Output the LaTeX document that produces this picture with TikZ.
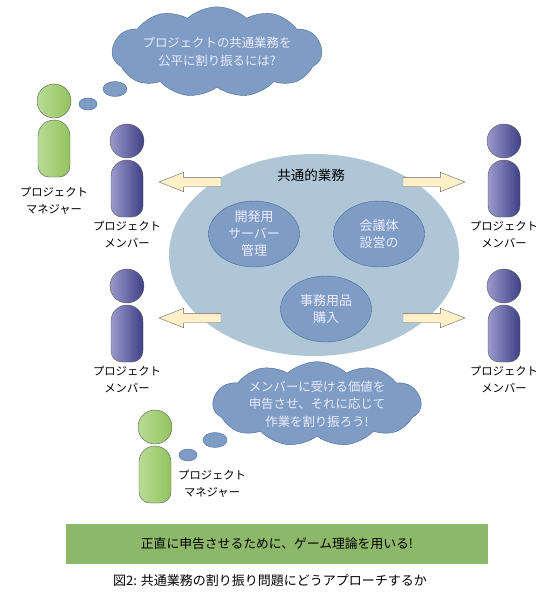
\documentclass[tikz,border=0pt]{standalone}
\usepackage{fontspec}
\setmainfont{Noto Sans CJK JP}
\usepackage{xcolor}
\usetikzlibrary{positioning, shapes.geometric, shapes.symbols, shapes.arrows}
\definecolor{bubbleblue}{HTML}{7F9CC4}
\definecolor{bubbleline}{HTML}{4A6A9C}
\definecolor{poolblue}{HTML}{AEC6D6}
\definecolor{arrowcream}{HTML}{FFF0C8}
\definecolor{bargreen}{HTML}{8DB86A}
\definecolor{mgrlight}{HTML}{B8DC94}
\definecolor{mgrdark}{HTML}{93C25F}
\definecolor{mbrlight}{HTML}{9A9ACC}
\definecolor{mbrdark}{HTML}{3F3F86}

\begin{document}
\begin{tikzpicture}[
    x=1pt, y=-1pt,
    lbl/.style={align=center, font=\fontsize{11.3}{16.5}\selectfont, inner sep=0pt},
    whitelbl/.style={lbl, text=white!92!blue, font=\fontsize{12.4}{17.5}\selectfont},
    task/.style={ellipse, draw=bubbleline, fill=bubbleblue, minimum width=91pt,
                 minimum height=66pt, inner sep=0pt, whitelbl,
                 font=\fontsize{13}{17}\selectfont},
    thought/.style={cloud, cloud puffs=11, cloud puff arc=85, aspect=3, draw=bubbleline,
                    fill=bubbleblue, minimum width=208pt, minimum height=78pt,
                    inner sep=0pt, whitelbl},
    dot/.style={ellipse, draw=bubbleline, fill=bubbleblue, inner sep=0pt},
    flow/.style={single arrow, draw=black!60, fill=arrowcream, minimum width=19pt,
                 minimum height=62pt, inner sep=4.5pt, outer sep=0pt,
                 single arrow tip angle=43, single arrow head extend=5pt},
    mgr/.style={draw=black!65, left color=mgrlight, right color=mgrdark},
    mbr/.style={draw=black!65, left color=mbrlight, right color=mbrdark},
    pics/person/.style={code={
      \node[circle, #1, minimum size=34pt, inner sep=0pt] (-head) at (0,-35) {};
      \path[#1] (-16,0) arc[start angle=180, end angle=360, radius=16]
        -- (16,30) arc[start angle=0, end angle=90, radius=11]
        -- (-5,41) arc[start angle=90, end angle=180, radius=11] -- cycle;
      \coordinate (-foot) at (0,41);
    }}
  ]
  \useasboundingbox (0,0) rectangle (554,592);

  % common pool
  \node[ellipse, fill=poolblue, minimum width=290pt, minimum height=202pt, inner sep=0pt]
    (pool) at (314,255) {};
  \node[lbl, font=\fontsize{13.5}{17}\selectfont] (title) at (311,175) {共通的業務};
  \node[task] (server) at (254,234) {開発用\\サーバー\\管理};
  \node[task] (council) at (379,234) {会議体\\設営の};
  \node[task] (office) at (326,309) {事務用品\\購入};

  % people
  \pic (mgrA) at (54,136) {person=mgr};
  \pic (mbrA) at (127,176) {person=mbr};
  \pic (mbrB) at (504,176) {person=mbr};
  \pic (mbrC) at (127,321) {person=mbr};
  \pic (mbrD) at (504,321) {person=mbr};
  \pic (mgrB) at (155,462) {person=mgr};
  \node[lbl, below=10pt of mgrA-foot] (mgrAtxt) {プロジェクト\\マネジャー};
  \node[lbl, below=4pt of mbrA-foot] (mbrAtxt) {プロジェクト\\メンバー};
  \node[lbl, below=4pt of mbrB-foot] (mbrBtxt) {プロジェクト\\メンバー};
  \node[lbl, below=4pt of mbrC-foot] (mbrCtxt) {プロジェクト\\メンバー};
  \node[lbl, below=4pt of mbrD-foot] (mbrDtxt) {プロジェクト\\メンバー};
  \node[lbl, right=23pt of mgrB-foot, yshift=19pt] (mgrBtxt) {プロジェクト\\マネジャー};

  % arrows
  \node[flow, shape border rotate=180] (outA) at (196,182) {};
  \node[flow] (outB) at (428,182) {};
  \node[flow, shape border rotate=180] (outC) at (196,318) {};
  \node[flow] (outD) at (428,318) {};

  % thoughts
  \node[thought] (thinkA) at (217,52) {プロジェクトの共通業務を\\公平に割り振るには?};
  \node[dot, minimum width=24pt, minimum height=15pt] (dotA) at (115,89) {};
  \node[dot, minimum width=18pt, minimum height=12pt] (dotB) at (88,104) {};
  \node[thought] (thinkB) at (317,404) {メンバーに受ける価値を\\申告させ、それに応じて\\作業を割り振ろう!};
  \node[dot, minimum width=24pt, minimum height=15pt] (dotC) at (215,440) {};
  \node[dot, minimum width=18pt, minimum height=12pt] (dotD) at (188,455) {};

  % bottom
  \node[fill=bargreen, minimum width=422pt, minimum height=40pt, inner sep=0pt, lbl,
        font=\fontsize{12.8}{16}\selectfont]
    (bar) at (277,544) {正直に申告させるために、ゲーム理論を用いる!};
  \node[lbl, below=10pt of bar, xshift=-7pt, font=\fontsize{13}{16}\selectfont] (caption)
    {図2: 共通業務の割り振り問題にどうアプローチするか};
\end{tikzpicture}
\end{document}
